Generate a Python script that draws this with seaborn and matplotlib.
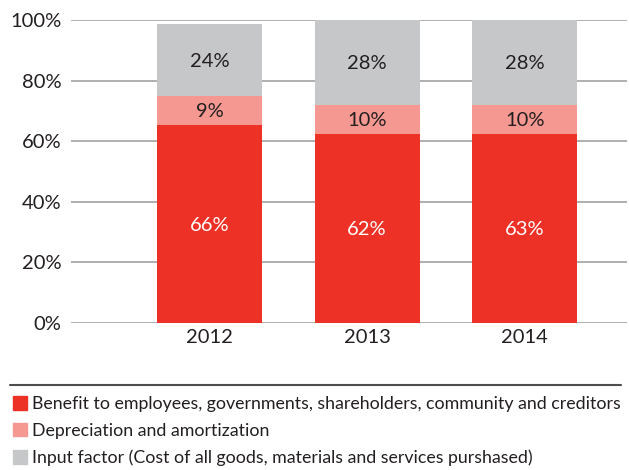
import numpy as np
import pandas as pd
import seaborn as sns
import matplotlib
matplotlib.use("Agg")
import matplotlib.pyplot as plt
from matplotlib.patches import Patch
from matplotlib.lines import Line2D

# data
years = ['2012', '2013', '2014']
benefit = [65.5, 62.4, 62.5]
depreciation = [9.5, 9.6, 9.6]
input_factor = [23.8, 28.0, 27.9]
benefit_lbl = ['66%', '62%', '63%']
depreciation_lbl = ['9%', '10%', '10%']
input_lbl = ['24%', '28%', '28%']
series_names = ['Benefit to employees, governments, shareholders, community and creditors',
                'Depreciation and amortization',
                'Input factor (Cost of all goods, materials and services purshased)']

c_red = '#EE3127'
c_pink = '#F59891'
c_gray = '#C6C7C9'
txt_col = '#231F20'

sns.set_theme(style='white')
plt.rcParams['font.family'] = ['Lato', 'DejaVu Sans']

df = pd.DataFrame({'year': years, 'benefit': benefit,
                   'depreciation': depreciation, 'input': input_factor})
df['b2'] = df['benefit']
df['b3'] = df['benefit'] + df['depreciation']

fig = plt.figure(figsize=(6.29, 4.70), dpi=100)
ax = fig.add_axes([71 / 629, 1 - 323 / 470, (627 - 71) / 629, 303 / 470])

bw = 0.667
sns.barplot(data=df, x='year', y='benefit', color=c_red, width=bw, ax=ax,
            saturation=1, zorder=3, linewidth=0)
sns.barplot(data=df, x='year', y='depreciation', bottom=df['b2'], color=c_pink, width=bw,
            ax=ax, saturation=1, zorder=3, linewidth=0)
sns.barplot(data=df, x='year', y='input', bottom=df['b3'], color=c_gray, width=bw,
            ax=ax, saturation=1, zorder=3, linewidth=0)

fs = 14.5
for i in range(len(years)):
    ax.text(i, benefit[i] / 2, benefit_lbl[i], ha='center', va='center_baseline',
            color='white', fontsize=fs, zorder=4)
    ax.text(i, df['b2'][i] + depreciation[i] / 2, depreciation_lbl[i], ha='center',
            va='center_baseline', color=txt_col, fontsize=fs, zorder=4)
    top = min(df['b3'][i] + input_factor[i], 100)
    ax.text(i, (df['b3'][i] + top) / 2, input_lbl[i], ha='center', va='center_baseline',
            color=txt_col, fontsize=fs, zorder=4)

ax.set_ylim(0, 100)
ax.set_xlim(-0.88, 2.65)
ax.set_yticks(np.arange(0, 101, 20))
ax.set_yticklabels([f'{v}%' for v in range(0, 101, 20)])
ax.grid(axis='y', color='#9A9A9A', linewidth=1.1, zorder=0)
ax.grid(axis='x', visible=False)
for s in ax.spines.values():
    s.set_visible(False)
ax.tick_params(axis='both', length=0, labelsize=fs, colors=txt_col)
ax.tick_params(axis='y', pad=7)
ax.tick_params(axis='x', pad=4)
ax.set_xlabel('')
ax.set_ylabel('')

fig.add_artist(Line2D([10 / 629, 621 / 629], [1 - 385 / 470] * 2, color='#4D4D4F',
                      linewidth=1.5, transform=fig.transFigure))

handles = [Patch(color=c) for c in (c_red, c_pink, c_gray)]
fig.legend(handles, series_names, loc='upper left', bbox_to_anchor=(13 / 629, 1 - 396 / 470),
           frameon=False, fontsize=12.8, handlelength=0.8, handleheight=0.8,
           handletextpad=0.25, labelspacing=0.6, borderaxespad=0, borderpad=0,
           labelcolor=txt_col)

plt.savefig('out.png', dpi=100)
